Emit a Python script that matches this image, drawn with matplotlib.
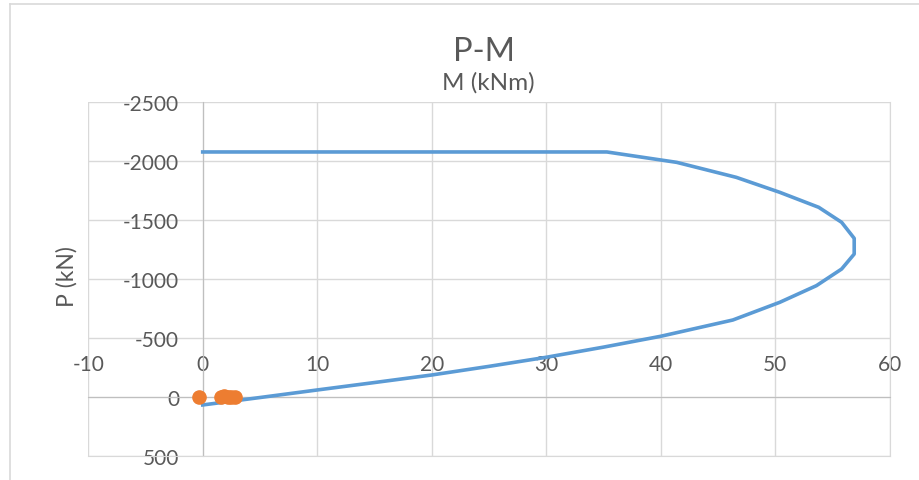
import matplotlib
matplotlib.use('Agg')
from matplotlib import pyplot as plt
from matplotlib.lines import Line2D

# interaction curve (M in kNm, P in kN, compression negative)
curve_m = [0, 35.3, 41.4, 46.6, 50.4, 53.8, 55.8, 56.9, 56.9, 55.8, 53.6, 50.4,
           46.3, 40.0, 35.0, 30.0, 25.0, 20.0, 15.0, 10.0, 5.0, 0]
curve_p = [-2074, -2074, -1986, -1859, -1732, -1605, -1478, -1342, -1209, -1082, -941, -800,
           -650, -512, -420, -334, -257, -184, -120, -57, 7, 70]

# load points
load_m = [-0.3, 1.6, 1.9, 2.2, 2.5, 2.8]
load_p = [0, 0, -3, 0, 2, 0]

x_ticks = [-10, 0, 10, 20, 30, 40, 50, 60]
y_ticks = [-2500, -2000, -1500, -1000, -500, 0, 500]

plt.rcParams['font.family'] = ['Lato', 'DejaVu Sans']
plt.rcParams['axes.unicode_minus'] = False
txt_color = '#595959'
grid_color = '#D9D9D9'
axis_color = '#BFBFBF'

fig = plt.figure(figsize=(9.2, 4.81), dpi=100)
ax = fig.add_axes([0.09587, 0.05052, 0.87120, 0.73597])

ax.plot(curve_m, curve_p, color='#5B9BD5', lw=2.6, solid_joinstyle='round', zorder=3)
ax.plot(load_m, load_p, 'o', color='#ED7D31', ms=9.5, mec='#ED7D31', zorder=4)

ax.set_xlim(-10, 60)
ax.set_ylim(500, -2500)
ax.set_xticks(x_ticks)
ax.set_yticks(y_ticks)
ax.grid(True, color=grid_color, lw=1.0, zorder=0)
ax.set_axisbelow(True)

# axes cross at zero like in Excel
ax.spines['left'].set_position(('data', 0))
ax.spines['top'].set_position(('data', 0))
ax.spines['left'].set_color(axis_color)
ax.spines['top'].set_color(axis_color)
ax.spines['right'].set_color(grid_color)
ax.spines['bottom'].set_color(grid_color)
ax.xaxis.tick_top()
ax.tick_params(axis='x', length=0, pad=16, labelsize=15, labelcolor=txt_color)
ax.tick_params(axis='y', length=0, pad=17, labelsize=15, labelcolor=txt_color)

ax.set_ylabel('P (kN)', fontsize=16.5, color=txt_color, va='center')
ax.yaxis.set_label_coords(-0.0268, 0.508)

fig.text(484 / 920, 1 - 51.7 / 481, 'P-M', fontsize=23.5, color=txt_color,
         ha='center', va='center')
fig.text(488 / 920, 1 - 83 / 481, 'M (kNm)', fontsize=17.5, color=txt_color,
         ha='center', va='center')

# chart area border (only top/left fall inside the image)
fig.add_artist(Line2D([10 / 920, 10 / 920], [0, 1 - 5 / 481], color=grid_color, lw=1.2))
fig.add_artist(Line2D([10 / 920, 1], [1 - 5 / 481, 1 - 5 / 481], color=grid_color, lw=1.2))

fig.savefig('out.png', dpi=100)
